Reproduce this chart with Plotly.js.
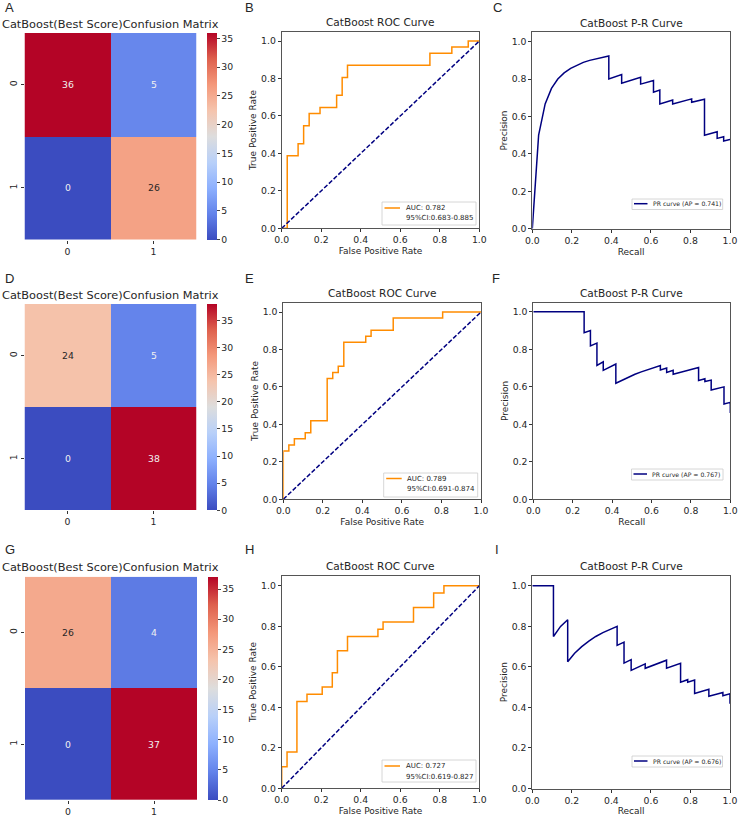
<!DOCTYPE html>
<html>
<head>
<meta charset="utf-8">
<script src="https://cdn.plot.ly/plotly-3.0.1.min.js"></script>
<style>html,body{margin:0;padding:0;background:#fff}</style>
</head>
<body>
<div id="container" style="width:740px;height:819px"></div>
<script>
// confusion matrices, read from the cells
var cmA = [[36, 5], [0, 26]];
var cmD = [[24, 5], [0, 38]];
var cmG = [[26, 4], [0, 37]];
var cmTicks = [0, 1];

// ROC curves (step corners)
var rocBx = [0, 0.028, 0.083, 0.111, 0.139, 0.194, 0.278, 0.306, 0.333, 0.75, 0.861, 0.944, 1];
var rocBy = [0, 0.387, 0.452, 0.548, 0.613, 0.645, 0.71, 0.806, 0.871, 0.935, 0.968, 1, 1];
var rocEx = [0, 0, 0.028, 0.056, 0.111, 0.139, 0.222, 0.25, 0.278, 0.306, 0.417, 0.444, 0.556, 0.806, 1];
var rocEy = [0, 0.258, 0.29, 0.323, 0.355, 0.419, 0.645, 0.677, 0.71, 0.839, 0.871, 0.903, 0.968, 1, 1];
var rocHx = [0, 0, 0.027, 0.077, 0.128, 0.205, 0.256, 0.282, 0.333, 0.487, 0.513, 0.667, 0.769, 0.821, 1];
var rocHy = [0, 0.107, 0.179, 0.429, 0.464, 0.5, 0.571, 0.679, 0.75, 0.786, 0.821, 0.893, 0.964, 1, 1];
var diagonal = [0, 1];

// P-R curves
var prCx = [0, 0.032, 0.065, 0.097, 0.129, 0.161, 0.194, 0.226, 0.258, 0.29, 0.323, 0.355, 0.387, 0.387, 0.452, 0.452, 0.548, 0.548, 0.613, 0.613, 0.645, 0.645, 0.71, 0.71, 0.806, 0.806, 0.871, 0.871, 0.935, 0.935, 0.968, 0.968, 1];
var prCy = [0, 0.5, 0.667, 0.75, 0.8, 0.833, 0.857, 0.875, 0.889, 0.9, 0.909, 0.917, 0.923, 0.8, 0.824, 0.778, 0.81, 0.773, 0.792, 0.73, 0.741, 0.667, 0.688, 0.667, 0.694, 0.676, 0.692, 0.5, 0.518, 0.483, 0.492, 0.469, 0.477];
var prFx = [0, 0.258, 0.258, 0.29, 0.29, 0.323, 0.323, 0.355, 0.355, 0.419, 0.419, 0.452, 0.484, 0.516, 0.548, 0.581, 0.613, 0.645, 0.645, 0.677, 0.677, 0.71, 0.71, 0.742, 0.774, 0.806, 0.839, 0.839, 0.871, 0.871, 0.903, 0.903, 0.968, 0.968, 1, 1];
var prFy = [1, 1, 0.889, 0.9, 0.818, 0.833, 0.714, 0.733, 0.688, 0.722, 0.619, 0.636, 0.652, 0.667, 0.68, 0.692, 0.704, 0.714, 0.69, 0.7, 0.677, 0.688, 0.667, 0.676, 0.686, 0.694, 0.703, 0.634, 0.643, 0.628, 0.636, 0.583, 0.6, 0.508, 0.517, 0.46];
var prIx = [0, 0.107, 0.107, 0.143, 0.179, 0.179, 0.214, 0.25, 0.286, 0.321, 0.357, 0.393, 0.429, 0.429, 0.464, 0.464, 0.5, 0.5, 0.571, 0.571, 0.607, 0.643, 0.679, 0.679, 0.714, 0.75, 0.75, 0.786, 0.786, 0.821, 0.821, 0.857, 0.893, 0.893, 0.929, 0.964, 0.964, 1, 1];
var prIy = [1, 1, 0.75, 0.8, 0.833, 0.625, 0.667, 0.7, 0.727, 0.75, 0.769, 0.786, 0.8, 0.706, 0.722, 0.619, 0.636, 0.583, 0.615, 0.593, 0.607, 0.621, 0.633, 0.594, 0.606, 0.618, 0.525, 0.537, 0.524, 0.535, 0.469, 0.48, 0.49, 0.455, 0.464, 0.474, 0.458, 0.467, 0.418];

var panelLetters = ['A', 'B', 'C', 'D', 'E', 'F', 'G', 'H', 'I'];
var cmTitle = 'CatBoost(Best Score)Confusion Matrix';
var rocTitle = 'CatBoost ROC Curve';
var prTitle = 'CatBoost P-R Curve';
var aucLabels = ['AUC: 0.782', 'AUC: 0.789', 'AUC: 0.727'];
var ciLabels = ['95%CI:0.683-0.885', '95%CI:0.691-0.874', '95%CI:0.619-0.827'];
var apLabels = ['PR curve (AP = 0.741)', 'PR curve (AP = 0.767)', 'PR curve (AP = 0.676)'];

var coolwarm = [
  [0, '#3b4cc0'], [0.125, '#6282ea'], [0.25, '#8db0fe'], [0.375, '#b8d0f9'], [0.5, '#dddddd'],
  [0.625, '#f5c4ad'], [0.75, '#f4987a'], [0.875, '#de604d'], [1, '#b40426']
];

var W = 740, H = 819;
var FONT = 'DejaVu Sans';
var TICK_SIZE = 9.3;
var LABEL_SIZE = 9;
var INK = '#262626';
var ORANGE = '#ff8c00';
var NAVY = '#000080';

function fx(px) { return px / W; }
function fy(py) { return 1 - py / H; }

var data = [];
var layout = {
  width: W, height: H,
  margin: {l: 0, r: 0, t: 0, b: 0, autoexpand: false},
  paper_bgcolor: '#fff', plot_bgcolor: '#fff',
  font: {family: FONT, size: TICK_SIZE, color: INK},
  annotations: [],
  shapes: [],
  showlegend: false
};
var axisCount = 0;

function note(text, px, py, size, anchor, family) {
  layout.annotations.push({
    text: text, xref: 'paper', yref: 'paper', x: fx(px), y: fy(py),
    showarrow: false, xanchor: anchor || 'center', yanchor: 'middle',
    font: {family: family || FONT, size: size, color: INK}
  });
}

// the reference's legend keys are shorter than plotly's 30px minimum, so drawn by hand
function legendBox(box) {
  layout.shapes.push({
    type: 'rect', xref: 'paper', yref: 'paper', layer: 'above',
    x0: fx(box.l), x1: fx(box.r), y0: fy(box.b), y1: fy(box.t),
    fillcolor: 'rgba(255,255,255,0.8)', line: {color: '#cccccc', width: 0.8}
  });
}

function legendKey(x0, x1, py, color) {
  layout.shapes.push({
    type: 'line', xref: 'paper', yref: 'paper', layer: 'above',
    x0: fx(x0), x1: fx(x1), y0: fy(py), y1: fy(py), line: {color: color, width: 1.5}
  });
}

function addAxes(box, xOpts, yOpts) {
  axisCount += 1;
  var suffix = axisCount === 1 ? '' : String(axisCount);
  var base = {
    ticks: 'outside', ticklen: 3, tickwidth: 0.8, tickcolor: '#333',
    showgrid: false, zeroline: false, tickfont: {size: TICK_SIZE, color: INK}
  };
  layout['xaxis' + suffix] = Object.assign({}, base, {
    domain: [fx(box.l), fx(box.r)], anchor: 'y' + suffix
  }, xOpts);
  layout['yaxis' + suffix] = Object.assign({}, base, {
    domain: [fy(box.b), fy(box.t)], anchor: 'x' + suffix
  }, yOpts);
  return {x: 'x' + suffix, y: 'y' + suffix};
}

function addMatrix(cm, box, barLeft) {
  var ax = addAxes(box,
    {range: [-0.5, 1.5], tickvals: cmTicks, ticktext: ['0', '1']},
    {range: [1.5, -0.5], tickvals: cmTicks, ticktext: ['0', '1'], tickangle: -90});
  var top = Math.max(cm[0][0], cm[0][1], cm[1][0], cm[1][1]);
  data.push({
    type: 'heatmap', z: cm, x: cmTicks, y: cmTicks, xaxis: ax.x, yaxis: ax.y,
    zmin: 0, zmax: top, colorscale: coolwarm,
    colorbar: {
      x: fx(barLeft), xanchor: 'left', xpad: 0,
      y: fy(box.b), yanchor: 'bottom', ypad: 0,
      len: (box.b - box.t) / H, lenmode: 'fraction',
      thickness: 10, thicknessmode: 'pixels', outlinewidth: 0,
      tick0: 0, dtick: 5, ticks: 'outside', ticklen: 3, tickwidth: 0.8,
      tickfont: {family: FONT, size: TICK_SIZE, color: INK}
    }
  });
  cm.forEach(function(row, i) {
    row.forEach(function(v, j) {
      layout.annotations.push({
        text: String(v), xref: ax.x, yref: ax.y, x: j, y: i, showarrow: false,
        font: {family: FONT, size: TICK_SIZE, color: v / top > 0.2 && v / top < 0.8 ? '#262626' : '#f0f0f0'}
      });
    });
  });
  note(cmTitle, 110.5, box.t - 9.5, 11.35);
}

function curveAxes(box, xName, yName) {
  var frame = {showline: true, mirror: true, linecolor: '#555', linewidth: 1, dtick: 0.2, tick0: 0, tickformat: '.1f'};
  return addAxes(box,
    Object.assign({}, frame, {range: [0, 1], title: {text: xName, standoff: 3, font: {size: LABEL_SIZE, color: INK}}}),
    Object.assign({}, frame, {range: [0, 1.05], title: {text: yName, standoff: 2, font: {size: LABEL_SIZE, color: INK}}}));
}

function addRoc(xs, ys, idx, box, lg) {
  var ax = curveAxes(box, 'False Positive Rate', 'True Positive Rate');
  data.push({
    type: 'scatter', mode: 'lines', x: xs, y: ys, xaxis: ax.x, yaxis: ax.y,
    name: aucLabels[idx], line: {color: ORANGE, width: 1.5, shape: 'hv'}
  });
  data.push({
    type: 'scatter', mode: 'lines', x: diagonal, y: diagonal, xaxis: ax.x, yaxis: ax.y,
    line: {color: NAVY, width: 1.5, dash: '4.5px,2px'}
  });
  note(rocTitle, (box.l + box.r) / 2, box.t - 9.5, 10.55);
  legendBox(lg);
  legendKey(lg.l + 2.5, lg.l + 18, lg.y1, ORANGE);
  note(aucLabels[idx], lg.l + 21.5, lg.y1, 7, 'left');
  note(ciLabels[idx], lg.l + 21.5, lg.y2, 7, 'left');
}

function addPr(xs, ys, idx, box, lg) {
  var ax = curveAxes(box, 'Recall', 'Precision');
  data.push({
    type: 'scatter', mode: 'lines', x: xs, y: ys, xaxis: ax.x, yaxis: ax.y,
    name: apLabels[idx], line: {color: NAVY, width: 1.5}
  });
  note(prTitle, (box.l + box.r) / 2, box.t - 9.5, 10.55);
  legendBox(lg);
  legendKey(lg.l + 2, lg.l + 15.5, lg.y1, NAVY);
  note(apLabels[idx], lg.l + 18.5, lg.y1, 6.15, 'left');
}

addMatrix(cmA, {l: 24.5, r: 196.5, t: 33, b: 239.5}, 207);
addRoc(rocBx, rocBy, 0, {l: 281.7, r: 479.3, t: 31.7, b: 228.3}, {l: 382, r: 476, t: 202, b: 225, y1: 208, y2: 218.3});
addPr(prCx, prCy, 0, {l: 532.3, r: 730, t: 32.3, b: 228.7}, {l: 632, r: 722.7, t: 199, b: 209.5, y1: 203.7});

addMatrix(cmD, {l: 24.5, r: 196.5, t: 304, b: 510.3}, 207);
addRoc(rocEx, rocEy, 1, {l: 283.3, r: 481, t: 302.7, b: 499.3}, {l: 383.7, r: 477.7, t: 473, b: 497, y1: 478.5, y2: 489.3});
addPr(prFx, prFy, 1, {l: 533.3, r: 730.3, t: 302.5, b: 499.3}, {l: 631.5, r: 723, t: 469, b: 480, y1: 474});

addMatrix(cmG, {l: 25, r: 197, t: 576.7, b: 800}, 208);
addRoc(rocHx, rocHy, 2, {l: 281.7, r: 479.3, t: 575.7, b: 788.3}, {l: 382, r: 476, t: 760, b: 782, y1: 766, y2: 777.3});
addPr(prIx, prIy, 2, {l: 532.3, r: 730, t: 575.7, b: 788.5}, {l: 632, r: 722.5, t: 756, b: 767, y1: 761});

var letterX = [9.5, 249, 497, 9.5, 249, 496, 9.5, 249, 497];
var letterY = [8, 8, 8, 278, 278, 278, 549, 549, 549];
panelLetters.forEach(function(letter, i) {
  note(letter, letterX[i], letterY[i], 13, 'center', 'Liberation Sans');
});

Plotly.newPlot('container', data, layout, {displayModeBar: false, responsive: false});
</script>
</body>
</html>
